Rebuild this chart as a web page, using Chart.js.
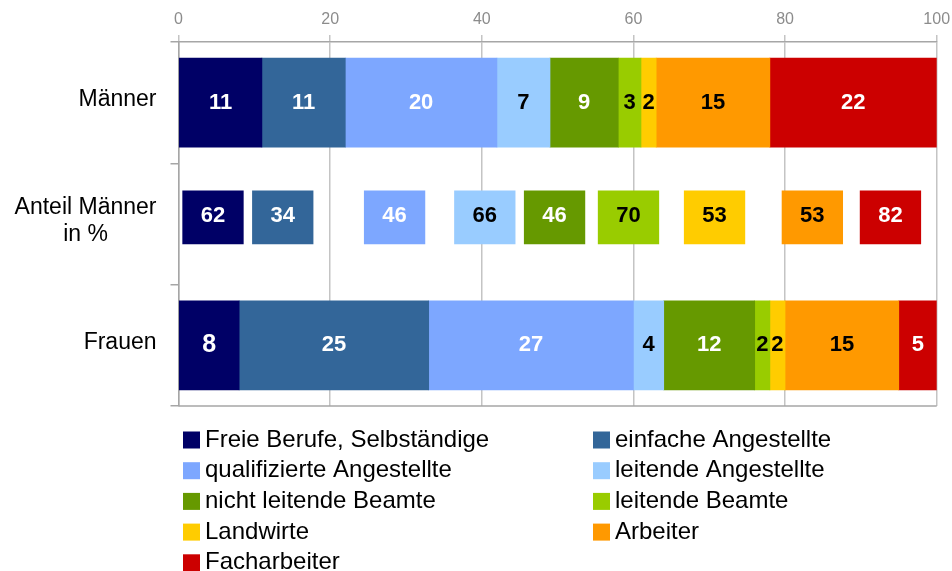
<!DOCTYPE html>
<html>
<head>
<meta charset="utf-8">
<script src="https://cdn.jsdelivr.net/npm/chart.js@4/dist/chart.umd.min.js"></script>
<style>
html,body{margin:0;padding:0;background:#fff;}
#wrap{width:952px;height:571px;position:relative;}
canvas{display:block;}
</style>
</head>
<body>
<div id="wrap"><canvas id="c" width="952" height="571"></canvas></div>
<script>
// ---- data ----
const categories = [['Männer'], ['Anteil Männer', 'in %'], ['Frauen']];
const seriesNames = ['Freie Berufe, Selbständige', 'einfache Angestellte', 'qualifizierte Angestellte',
  'leitende Angestellte', 'nicht leitende Beamte', 'leitende Beamte', 'Landwirte', 'Arbeiter', 'Facharbeiter'];
const maenner = [11, 11, 20, 7, 9, 3, 2, 15, 22];
const frauen = [8, 25, 27, 4, 12, 2, 2, 15, 5];
const anteilMaenner = [62, 34, 46, 66, 46, 70, 53, 53, 82];
// where each "Anteil Männer" label box sits along the 0–100 axis
const anteilLabelPos = [4.55, 13.75, 28.5, 40.4, 49.6, 59.35, 70.7, 83.6, 93.9];
const xTicks = [0, 20, 40, 60, 80, 100];

// ---- styles ----
const colors = ['#000066', '#336699', '#7DA7FF', '#99CCFF', '#669900', '#99CC00', '#FFCC00', '#FF9900', '#CC0000'];
const labelColors = ['#fff', '#fff', '#fff', '#000', '#fff', '#000', '#000', '#000', '#fff'];
const BOX_W = 8;           // width of share boxes in axis units
const FONT = '"Liberation Sans", Arial, Helvetica, sans-serif';

const datasets = [];
seriesNames.forEach((name, i) => {
  datasets.push({
    label: name,
    data: [maenner[i], null, frauen[i]],
    backgroundColor: colors[i],
    borderWidth: 0,
    barThickness: 89,
    maxBarThickness: 89,
    grouped: false,
    xAxisID: 'x', yAxisID: 'y',
    labelColor: labelColors[i],
    seriesIndex: i
  });
});
seriesNames.forEach((name, i) => {
  datasets.push({
    label: name,
    data: [{ x: [anteilLabelPos[i] - BOX_W / 2, anteilLabelPos[i] + BOX_W / 2], y: 1 }],
    backgroundColor: colors[i],
    borderWidth: 0,
    barThickness: 53,
    maxBarThickness: 53,
    grouped: false,
    stack: 'share' + i,
    xAxisID: 'x', yAxisID: 'y2',
    labelColor: labelColors[i],
    isShare: true,
    seriesIndex: i
  });
});

const valueLabels = {
  id: 'valueLabels',
  afterDatasetsDraw(chart) {
    const ctx = chart.ctx;
    ctx.save();
    ctx.textAlign = 'center';
    ctx.textBaseline = 'middle';
    chart.data.datasets.forEach((ds, di) => {
      const meta = chart.getDatasetMeta(di);
      meta.data.forEach((el, i) => {
        const raw = ds.data[i];
        if (raw === null || raw === undefined) return;
        const text = ds.isShare ? String(anteilMaenner[ds.seriesIndex]) : String(raw);
        const p = el.getCenterPoint();
        const big = !ds.isShare && i === 2 && ds.seriesIndex === 0;
        ctx.font = 'bold ' + (big ? 25 : 22) + 'px ' + FONT;
        ctx.fillStyle = ds.labelColor;
        ctx.fillText(text, p.x, p.y + (ds.isShare ? -1 : 0));
      });
    });
    ctx.restore();
  }
};

const yLabels = {
  id: 'yLabels',
  afterDraw(chart) {
    const ctx = chart.ctx, ys = chart.scales.y;
    ctx.save();
    ctx.font = '23px ' + FONT;
    ctx.fillStyle = '#000';
    ctx.textBaseline = 'middle';
    ctx.textAlign = 'center';
    const right = ys.right - 22;
    const lh = 27.5;
    categories.forEach((lines, i) => {
      const w = Math.max(...lines.map(l => ctx.measureText(l).width));
      const cy = ys.getPixelForValue(i) - 3;
      lines.forEach((l, k) => {
        ctx.fillText(l, right - w / 2, cy + (k - (lines.length - 1) / 2) * lh);
      });
    });
    ctx.restore();
  }
};

const frame = {
  id: 'frame',
  afterDraw(chart) {
    const ctx = chart.ctx, a = chart.chartArea;
    ctx.save();
    ctx.strokeStyle = '#a6a6a6';
    ctx.lineWidth = 1.5;
    ctx.beginPath();
    ctx.moveTo(a.left, a.bottom);
    ctx.lineTo(a.right, a.bottom);
    ctx.stroke();
    ctx.restore();
  }
};

const legendBoxes = {
  id: 'legendBoxes',
  afterDraw(chart) {
    const ctx = chart.ctx;
    ctx.save();
    ctx.font = '24px ' + FONT;
    ctx.textBaseline = 'alphabetic';
    ctx.textAlign = 'left';
    const colX = [183, 593];
    const top0 = 431.5, pitch = 30.7, box = 17;
    seriesNames.forEach((name, i) => {
      const col = i % 2, row = Math.floor(i / 2);
      const bx = colX[col], by = top0 + row * pitch;
      ctx.fillStyle = colors[i];
      ctx.fillRect(bx, by, box, box);
      ctx.fillStyle = '#000';
      ctx.fillText(name, bx + box + 5, by + 15);
    });
    ctx.restore();
  }
};

new Chart(document.getElementById('c'), {
  type: 'bar',
  data: { labels: categories.map(c => c.join(' ')), datasets },
  options: {
    indexAxis: 'y',
    responsive: false,
    animation: false,
    devicePixelRatio: 1,
    layout: { padding: { left: 0, top: 0, right: 15.3, bottom: 165 } },
    plugins: { legend: { display: false }, tooltip: { enabled: false } },
    scales: {
      x: {
        position: 'top',
        stacked: true,
        min: 0, max: 100,
        afterBuildTicks(scale) { scale.ticks = xTicks.map(v => ({ value: v })); },
        afterFit(scale) { scale.height = 42; scale.paddingLeft = 0; scale.paddingRight = 0; },
        ticks: { color: '#8c8c8c', font: { family: FONT, size: 16 }, padding: 6, maxRotation: 0 },
        grid: { color: '#c4c4c4', lineWidth: 1.5, tickLength: 7, drawTicks: true },
        border: { color: '#a6a6a6', width: 1.5 }
      },
      y: {
        stacked: true,
        afterFit(scale) { scale.width = 178.5; scale.paddingTop = 0; scale.paddingBottom = 0; },
        ticks: { display: false },
        grid: { drawOnChartArea: false, tickLength: 8, color: '#a6a6a6', lineWidth: 1.5, offset: true },
        border: { color: '#a6a6a6', width: 1.5 }
      },
      y2: {
        type: 'linear',
        display: false,
        reverse: true,
        min: -0.5 + 0.0635,
        max: 2.5 + 0.0635
      }
    }
  },
  plugins: [valueLabels, yLabels, frame, legendBoxes]
});
</script>
</body>
</html>
